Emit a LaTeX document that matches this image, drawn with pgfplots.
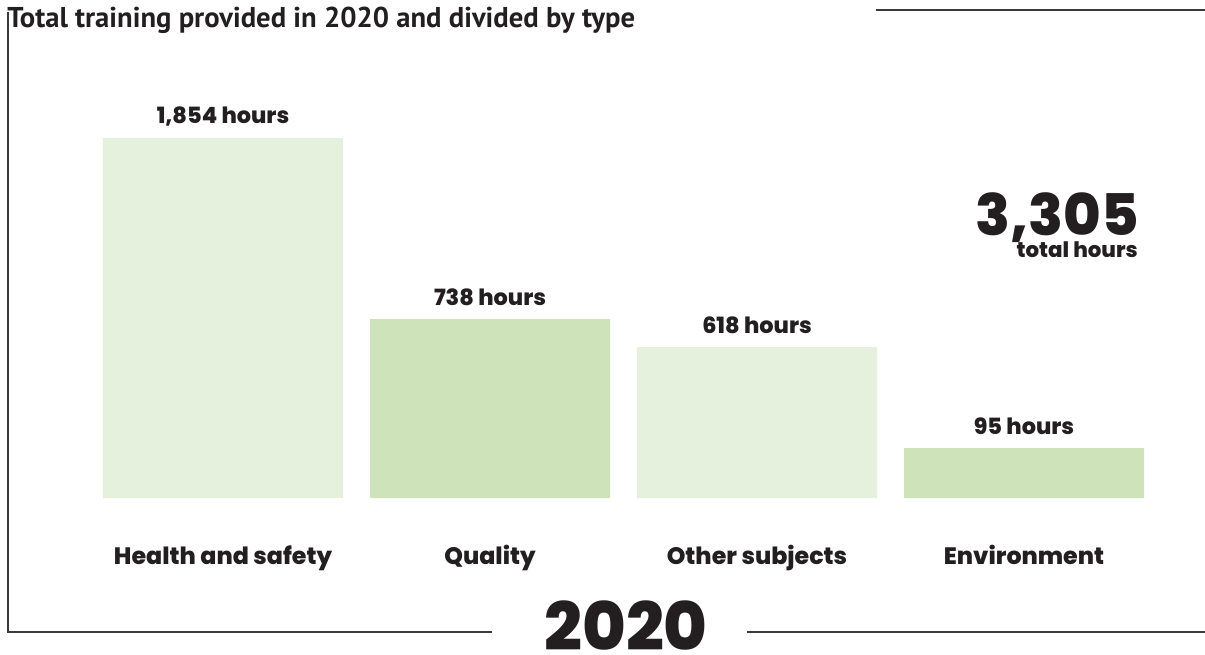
\documentclass[border=0pt]{standalone}
\usepackage{pgfplots}
\pgfplotsset{compat=1.18}
\usepackage{pgfplotstable}
\usepackage{fontspec}
\setmainfont{Poppins}[BoldFont={Poppins ExtraBold}]
\newfontfamily\titlefont{PT Sans}[BoldFont={PT Sans Bold}]
\definecolor{lightg}{HTML}{E5F1DD}
\definecolor{darkg}{HTML}{CFE3BA}
\definecolor{txt}{HTML}{231F20}
\definecolor{rule}{HTML}{3A3A3A}

% visual bar heights (px) and their labels
\pgfplotstableread{
x h label
0 360 {1,854 hours}
2 151 {618 hours}
}\lighttab
\pgfplotstableread{
x h label
1 179 {738 hours}
3 50 {95 hours}
}\darktab

\begin{document}
\begin{tikzpicture}[x=0.75pt,y=0.75pt]
\useasboundingbox (0,0) rectangle (1205,654);
% frame
\draw[rule,line width=0.9pt] (876,644) -- (1205,644);
\draw[rule,line width=0.9pt] (8,642) -- (8,22) -- (492,22);
\draw[rule,line width=0.9pt] (747,22) -- (1205,22);
% title
\node[anchor=base west,inner sep=0pt,text=txt] at (7,626) {\titlefont\bfseries\fontsize{21.5pt}{22pt}\selectfont Total training provided in 2020 and divided by type};
% year
\node[anchor=base,inner sep=0pt,text=txt] at (626,4) {\bfseries\fontsize{50pt}{52pt}\selectfont 2020};
% total
\node[anchor=base east,inner sep=0pt,text=txt] at (1139,418) {\bfseries\fontsize{43pt}{45pt}\selectfont 3,305};
\node[anchor=base east,inner sep=0pt,text=txt] at (1138,396) {\bfseries\fontsize{16pt}{17pt}\selectfont total hours};

\begin{axis}[
  at={(77.25pt,117pt)}, anchor=south west,
  scale only axis,
  width=780.75pt, height=300pt,
  xmin=-0.4494, xmax=3.4494,
  ymin=0, ymax=400,
  axis line style={draw=none},
  major tick length=0pt,
  ytick=\empty,
  xtick={0,1,2,3},
  xticklabels={Health and safety,Quality,Other subjects,Environment},
  xticklabel style={anchor=base, yshift=-49.5pt, text=txt, font=\bfseries\fontsize{17.8pt}{18pt}\selectfont},
  clip=false,
  ybar, bar width=180pt, bar shift=0pt,
  nodes near coords,
  point meta=explicit symbolic,
  every node near coord/.append style={anchor=base, yshift=10.5pt, inner sep=0pt, text=txt, font=\bfseries\fontsize{16.8pt}{17pt}\selectfont},
]
\addplot[draw=none, fill=lightg] table[x=x, y=h, meta=label] {\lighttab};
\addplot[draw=none, fill=darkg] table[x=x, y=h, meta=label] {\darktab};
\end{axis}
\end{tikzpicture}
\end{document}
